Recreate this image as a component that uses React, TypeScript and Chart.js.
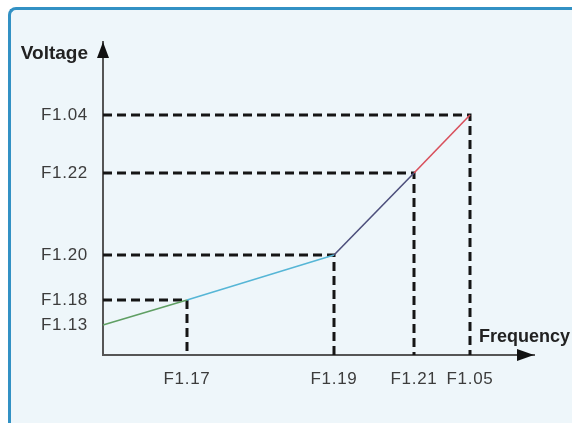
import React, { useEffect, useRef } from 'react';
import { Chart, registerables, Plugin } from 'chart.js';

Chart.register(...registerables);

// positions (horizontal / vertical distance from the origin)
const pointX = [0, 84, 231, 311, 367];
const pointY = [30, 55, 100, 182, 240];
const segmentColors = ['#5f9f63', '#56b6d6', '#4d4f7c', '#d8505c'];

const xTickLabels = ['F1.17', 'F1.19', 'F1.21', 'F1.05'];
const xTickValues = [84, 231, 311, 367];
const yTickLabels = ['F1.13', 'F1.18', 'F1.20', 'F1.22', 'F1.04'];
const yTickValues = [30, 55, 100, 182, 240];

const X_MAX = 431;
const Y_MAX = 313;

const tickFont = { family: '"Liberation Sans", Arial, sans-serif', size: 17 };

const axisDecor: Plugin = {
  id: 'axisDecor',
  beforeDraw(chart) {
    // the tick labels are a little spaced out in the original
    (chart.ctx as any).letterSpacing = '0.7px';
  },
  afterDraw(chart) {
    const { ctx, chartArea } = chart;
    const { left, right, top, bottom } = chartArea;
    ctx.save();
    (ctx as any).letterSpacing = '0px';
    ctx.fillStyle = '#111';
    // y arrow
    ctx.beginPath();
    ctx.moveTo(left, top);
    ctx.lineTo(left - 6, top + 16);
    ctx.lineTo(left + 6, top + 16);
    ctx.closePath();
    ctx.fill();
    // x arrow
    ctx.beginPath();
    ctx.moveTo(right, bottom);
    ctx.lineTo(right - 17, bottom - 6);
    ctx.lineTo(right - 17, bottom + 6);
    ctx.closePath();
    ctx.fill();

    ctx.fillStyle = '#222';
    ctx.textBaseline = 'middle';
    ctx.font = 'bold 19px "Liberation Sans", Arial, sans-serif';
    ctx.textAlign = 'right';
    ctx.fillText('Voltage', left - 15, top + 12);
    ctx.font = 'bold 18px "Liberation Sans", Arial, sans-serif';
    ctx.textAlign = 'left';
    ctx.fillText('Frequency', right - 55, bottom - 18);
    ctx.restore();
  }
};

export default function App() {
  const chartRef = useRef<HTMLCanvasElement>(null);
  const chartInstance = useRef<Chart | null>(null);

  useEffect(() => {
    if (!chartRef.current) return;
    if (chartInstance.current) {
      chartInstance.current.destroy();
    }
    const ctx = chartRef.current.getContext('2d');
    if (!ctx) return;

    const points = pointX.map((x, i) => ({ x, y: pointY[i] }));

    // dashed guides from each break point to both axes
    const guides = points.slice(1).map(p => ({
      data: [
        { x: 0, y: p.y },
        { x: p.x, y: p.y },
        { x: p.x, y: 0 }
      ],
      borderColor: '#151515',
      borderWidth: 3,
      borderDash: [9, 5],
      pointRadius: 0,
      clip: false as const,
      order: 2
    }));

    chartInstance.current = new Chart(ctx, {
      type: 'line',
      data: {
        datasets: [
          {
            data: points,
            borderWidth: 1.6,
            borderColor: segmentColors[0],
            segment: {
              borderColor: c => segmentColors[c.p0DataIndex]
            },
            pointRadius: 0,
            clip: false as const,
            order: 1
          },
          ...guides
        ]
      },
      options: {
        animation: false,
        responsive: false,
        parsing: false,
        layout: {
          padding: { left: 0, right: 40, top: 42, bottom: 0 }
        },
        plugins: {
          legend: { display: false },
          tooltip: { enabled: false }
        },
        scales: {
          x: {
            type: 'linear',
            min: 0,
            max: X_MAX,
            grid: { display: false, drawTicks: false },
            border: { display: true, color: '#555', width: 2 },
            afterBuildTicks: scale => {
              scale.ticks = xTickValues.map(v => ({ value: v }));
            },
            afterFit: scale => {
              scale.height = 68;
            },
            ticks: {
              padding: 14,
              color: '#3c3c3c',
              font: tickFont,
              maxRotation: 0,
              autoSkip: false,
              callback: (_v, i) => xTickLabels[i]
            }
          },
          y: {
            type: 'linear',
            min: 0,
            max: Y_MAX,
            grid: { display: false, drawTicks: false },
            border: { display: true, color: '#555', width: 2 },
            afterBuildTicks: scale => {
              scale.ticks = yTickValues.map(v => ({ value: v }));
            },
            afterFit: scale => {
              scale.width = 103;
            },
            ticks: {
              padding: 15,
              color: '#3c3c3c',
              font: tickFont,
              autoSkip: false,
              callback: (_v, i) => yTickLabels[i]
            }
          }
        }
      },
      plugins: [axisDecor]
    });

    return () => {
      if (chartInstance.current) {
        chartInstance.current.destroy();
        chartInstance.current = null;
      }
    };
  }, []);

  return (
    <div style={{ position: 'fixed', left: 0, top: 0, width: 574, height: 423, background: '#fff' }}>
      <div
        style={{
          position: 'absolute',
          left: 8,
          top: 7,
          width: 564,
          height: 420,
          background: '#eef6fa',
          borderTop: '3px solid #3291c4',
          borderLeft: '3px solid #3291c4',
          borderTopLeftRadius: 8,
          boxSizing: 'border-box'
        }}
      />
      <canvas
        ref={chartRef}
        width={574}
        height={423}
        style={{ position: 'absolute', left: 0, top: 0, width: 574, height: 423 }}
      />
    </div>
  );
}
